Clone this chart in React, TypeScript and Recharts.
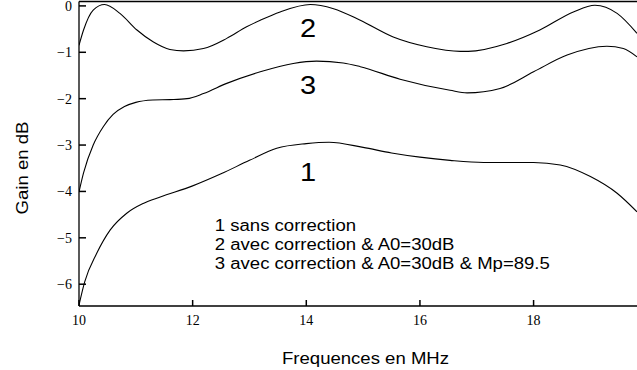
import { LineChart, Line, XAxis, YAxis, ReferenceDot, ReferenceLine } from "recharts";

// curve 1 : sans correction
const freq1 = [10, 10.1, 10.31, 10.55, 10.84, 11.13, 11.43, 12.0, 12.5, 13.0, 13.48, 14.0, 14.4, 15.0, 15.5, 16.0, 16.53, 17.12, 18.0, 18.47, 19.0, 19.47, 19.82];
const gain1 = [-6.45, -5.95, -5.34, -4.83, -4.47, -4.26, -4.12, -3.88, -3.62, -3.33, -3.07, -2.97, -2.94, -3.05, -3.17, -3.26, -3.33, -3.375, -3.375, -3.43, -3.68, -4.04, -4.44];

// curve 2 : avec correction & A0=30dB
const freq2 = [10, 10.08, 10.25, 10.45, 10.72, 11.02, 11.31, 11.6, 11.84, 12.19, 12.6, 12.95, 13.19, 13.54, 14.07, 14.48, 14.95, 15.53, 16.12, 16.71, 16.85, 17.53, 18.11, 18.7, 19.08, 19.47, 19.82];
const gain2 = [-0.85, -0.52, -0.09, 0.03, -0.16, -0.52, -0.78, -0.94, -0.97, -0.92, -0.7, -0.45, -0.31, -0.13, 0.03, -0.06, -0.31, -0.67, -0.88, -0.98, -0.98, -0.81, -0.52, -0.13, 0.015, -0.16, -0.59];

// curve 3 : avec correction & A0=30dB & Mp=89.5
const freq3 = [10, 10.08, 10.25, 10.43, 10.6, 10.8, 11.0, 11.3, 11.6, 11.9, 12.19, 12.6, 13.19, 13.77, 14.18, 14.65, 14.95, 15.65, 16.53, 16.83, 17.41, 18.0, 18.59, 19.29, 19.58, 19.82];
const gain3 = [-4.01, -3.6, -3.0, -2.6, -2.34, -2.17, -2.08, -2.03, -2.02, -2.0, -1.89, -1.67, -1.42, -1.24, -1.19, -1.23, -1.31, -1.58, -1.82, -1.875, -1.78, -1.42, -1.06, -0.87, -0.92, -1.1];

const xTicks = [10, 12, 14, 16, 18];
const yTicks = [0, -1, -2, -3, -4, -5, -6];
const legendLines = ["1 sans correction", "2 avec correction & A0=30dB", "3 avec correction & A0=30dB & Mp=89.5"];

const X_MIN = 10;
const X_MAX = 19.82;
const Y_MIN = -6.47;
const Y_MAX = 0.095;

const SANS = "'Liberation Sans', Arial, sans-serif";
const SERIF = "'Liberation Serif', 'Times New Roman', serif";
const STRETCH = 1.16;

type Row = { f: number; g1?: number; g2?: number; g3?: number };
const rows: Row[] = [
  ...freq1.map((f, i) => ({ f, g1: gain1[i] })),
  ...freq2.map((f, i) => ({ f, g2: gain2[i] })),
  ...freq3.map((f, i) => ({ f, g3: gain3[i] })),
].sort((a, b) => a.f - b.f);

function Stretch({ x, y, size, anchor = "start", rotate = 0, children }: any) {
  return (
    <text
      transform={`translate(${x},${y}) rotate(${rotate}) scale(${STRETCH},1)`}
      textAnchor={anchor}
      fontFamily={SANS}
      fontSize={size}
      fill="#000"
    >
      {children}
    </text>
  );
}

const BottomTick = ({ x, y, payload }: any) => (
  <text x={x} y={y + 19} textAnchor="middle" fontFamily={SERIF} fontSize={14} fill="#000">
    {payload.value}
  </text>
);

const LeftTick = ({ x, y, payload }: any) => (
  <text x={x - 7} y={y + 5} textAnchor="end" fontFamily={SERIF} fontSize={14} fill="#000">
    {String(payload.value).replace("-", "\u2212")}
  </text>
);

const EmptyTick = () => <g />;

const frame = { stroke: "#000", strokeWidth: 1.3 };
const tickLine = { stroke: "#000", strokeWidth: 1.5 };

const curveLabels = [
  { text: "2", f: 14.03, g: -0.675 },
  { text: "3", f: 14.03, g: -1.9 },
  { text: "1", f: 14.03, g: -3.78 },
];
const legendPos = [-4.86, -5.265, -5.675];

export default function App() {
  return (
    <div style={{ position: "absolute", left: 0, top: 0, width: 637, height: 370, background: "#fff" }}>
      <LineChart width={637} height={370} data={rows} margin={{ top: 1.5, right: 0, bottom: 0, left: 0 }}>
        <XAxis
          dataKey="f"
          type="number"
          domain={[X_MIN, X_MAX]}
          allowDataOverflow
          ticks={xTicks}
          tickLine={tickLine}
          tickSize={-6}
          tickMargin={6}
          height={64}
          axisLine={frame}
          tick={<BottomTick />}
          interval={0}
          label={{
            content: () => (
              <Stretch x={365.5} y={364} size={16} anchor="middle">
                Frequences en MHz
              </Stretch>
            ),
          }}
        />
        <XAxis
          xAxisId="top"
          orientation="top"
          dataKey="f"
          type="number"
          domain={[X_MIN, X_MAX]}
          allowDataOverflow
          ticks={xTicks}
          tickLine={tickLine}
          tickSize={-7}
          tickMargin={0}
          height={0}
          axisLine={false}
          tick={<EmptyTick />}
          interval={0}
        />
        <YAxis
          type="number"
          domain={[Y_MIN, Y_MAX]}
          allowDataOverflow
          ticks={yTicks}
          tickLine={tickLine}
          tickSize={-7}
          tickMargin={7}
          width={79}
          axisLine={frame}
          tick={<LeftTick />}
          interval={0}
          label={{
            content: () => (
              <Stretch x={27.5} y={168} size={16} anchor="middle" rotate={-90}>
                Gain en dB
              </Stretch>
            ),
          }}
        />
        <ReferenceLine y={Y_MAX} stroke="#000" strokeWidth={1.3} ifOverflow="visible" />
        <Line dataKey="g1" type="monotone" stroke="#000" strokeWidth={1.1} dot={false} connectNulls isAnimationActive={false} />
        <Line dataKey="g2" type="monotone" stroke="#000" strokeWidth={1.1} dot={false} connectNulls isAnimationActive={false} />
        <Line dataKey="g3" type="monotone" stroke="#000" strokeWidth={1.1} dot={false} connectNulls isAnimationActive={false} />
        {curveLabels.map((c) => (
          <ReferenceDot
            key={c.text}
            x={c.f}
            y={c.g}
            r={0}
            shape={(p: any) => (
              <Stretch x={p.cx} y={p.cy} size={25} anchor="middle">
                {c.text}
              </Stretch>
            )}
          />
        ))}
        {legendLines.map((t, i) => (
          <ReferenceDot
            key={t}
            x={12.39}
            y={legendPos[i]}
            r={0}
            shape={(p: any) => (
              <Stretch x={p.cx} y={p.cy} size={16}>
                {t}
              </Stretch>
            )}
          />
        ))}
      </LineChart>
    </div>
  );
}
